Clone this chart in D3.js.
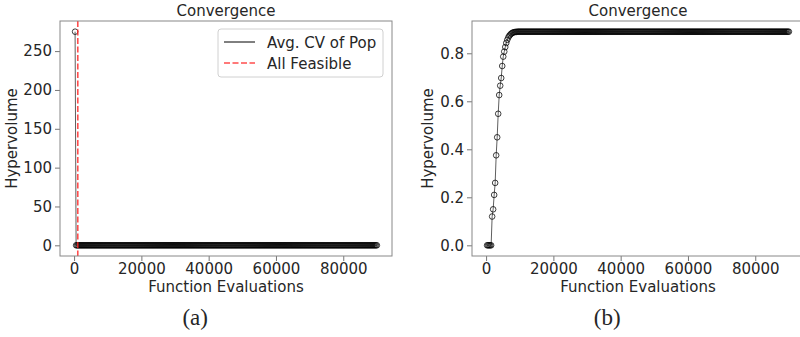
<!DOCTYPE html>
<html>
<head>
<meta charset="utf-8">
<script src="https://cdn.jsdelivr.net/npm/d3@7"></script>
<style>
  body { margin: 0; background: #fff; }
  text { font-family: "DejaVu Sans", sans-serif; fill: #262626; }
</style>
</head>
<body>
<div id="chart"></div>
<script>
const WIDTH = 800;
const HEIGHT = 337;
const TOP = 21;
const BOTTOM = 256;

// evaluation counts (one entry per generation)
const evals = [
  300, 600, 900, 1200, 1500, 1800, 2100, 2400, 2700, 3000,
  3300, 3600, 3900, 4200, 4500, 4800, 5100, 5400, 5700, 6000,
  6300, 6600, 6900, 7200, 7500, 7800, 8100, 8400, 8700, 9000,
  9300, 9600, 9900, 10200, 10500, 10800, 11100, 11400, 11700, 12000,
  12300, 12600, 12900, 13200, 13500, 13800, 14100, 14400, 14700, 15000,
  15300, 15600, 15900, 16200, 16500, 16800, 17100, 17400, 17700, 18000,
  18300, 18600, 18900, 19200, 19500, 19800, 20100, 20400, 20700, 21000,
  21300, 21600, 21900, 22200, 22500, 22800, 23100, 23400, 23700, 24000,
  24300, 24600, 24900, 25200, 25500, 25800, 26100, 26400, 26700, 27000,
  27300, 27600, 27900, 28200, 28500, 28800, 29100, 29400, 29700, 30000,
  30300, 30600, 30900, 31200, 31500, 31800, 32100, 32400, 32700, 33000,
  33300, 33600, 33900, 34200, 34500, 34800, 35100, 35400, 35700, 36000,
  36300, 36600, 36900, 37200, 37500, 37800, 38100, 38400, 38700, 39000,
  39300, 39600, 39900, 40200, 40500, 40800, 41100, 41400, 41700, 42000,
  42300, 42600, 42900, 43200, 43500, 43800, 44100, 44400, 44700, 45000,
  45300, 45600, 45900, 46200, 46500, 46800, 47100, 47400, 47700, 48000,
  48300, 48600, 48900, 49200, 49500, 49800, 50100, 50400, 50700, 51000,
  51300, 51600, 51900, 52200, 52500, 52800, 53100, 53400, 53700, 54000,
  54300, 54600, 54900, 55200, 55500, 55800, 56100, 56400, 56700, 57000,
  57300, 57600, 57900, 58200, 58500, 58800, 59100, 59400, 59700, 60000,
  60300, 60600, 60900, 61200, 61500, 61800, 62100, 62400, 62700, 63000,
  63300, 63600, 63900, 64200, 64500, 64800, 65100, 65400, 65700, 66000,
  66300, 66600, 66900, 67200, 67500, 67800, 68100, 68400, 68700, 69000,
  69300, 69600, 69900, 70200, 70500, 70800, 71100, 71400, 71700, 72000,
  72300, 72600, 72900, 73200, 73500, 73800, 74100, 74400, 74700, 75000,
  75300, 75600, 75900, 76200, 76500, 76800, 77100, 77400, 77700, 78000,
  78300, 78600, 78900, 79200, 79500, 79800, 80100, 80400, 80700, 81000,
  81300, 81600, 81900, 82200, 82500, 82800, 83100, 83400, 83700, 84000,
  84300, 84600, 84900, 85200, 85500, 85800, 86100, 86400, 86700, 87000,
  87300, 87600, 87900, 88200, 88500, 88800, 89100, 89400, 89700, 90000
];

// (a) average constraint violation of the population
const avgCV = [
  275, 0, 0, 0, 0, 0, 0, 0, 0, 0, 0, 0, 0, 0, 0, 0, 0, 0, 0, 0,
  0, 0, 0, 0, 0, 0, 0, 0, 0, 0, 0, 0, 0, 0, 0, 0, 0, 0, 0, 0,
  0, 0, 0, 0, 0, 0, 0, 0, 0, 0, 0, 0, 0, 0, 0, 0, 0, 0, 0, 0,
  0, 0, 0, 0, 0, 0, 0, 0, 0, 0, 0, 0, 0, 0, 0, 0, 0, 0, 0, 0,
  0, 0, 0, 0, 0, 0, 0, 0, 0, 0, 0, 0, 0, 0, 0, 0, 0, 0, 0, 0,
  0, 0, 0, 0, 0, 0, 0, 0, 0, 0, 0, 0, 0, 0, 0, 0, 0, 0, 0, 0,
  0, 0, 0, 0, 0, 0, 0, 0, 0, 0, 0, 0, 0, 0, 0, 0, 0, 0, 0, 0,
  0, 0, 0, 0, 0, 0, 0, 0, 0, 0, 0, 0, 0, 0, 0, 0, 0, 0, 0, 0,
  0, 0, 0, 0, 0, 0, 0, 0, 0, 0, 0, 0, 0, 0, 0, 0, 0, 0, 0, 0,
  0, 0, 0, 0, 0, 0, 0, 0, 0, 0, 0, 0, 0, 0, 0, 0, 0, 0, 0, 0,
  0, 0, 0, 0, 0, 0, 0, 0, 0, 0, 0, 0, 0, 0, 0, 0, 0, 0, 0, 0,
  0, 0, 0, 0, 0, 0, 0, 0, 0, 0, 0, 0, 0, 0, 0, 0, 0, 0, 0, 0,
  0, 0, 0, 0, 0, 0, 0, 0, 0, 0, 0, 0, 0, 0, 0, 0, 0, 0, 0, 0,
  0, 0, 0, 0, 0, 0, 0, 0, 0, 0, 0, 0, 0, 0, 0, 0, 0, 0, 0, 0,
  0, 0, 0, 0, 0, 0, 0, 0, 0, 0, 0, 0, 0, 0, 0, 0, 0, 0, 0, 0
];
const allFeasibleAt = 1100;

// (b) hypervolume
const hypervolume = [
  0, 0, 0, 0, 0, 0.12, 0.15, 0.21, 0.26, 0.375,
  0.45, 0.548, 0.626, 0.665, 0.697, 0.747, 0.786, 0.807, 0.826, 0.843,
  0.856, 0.866, 0.873, 0.878, 0.882, 0.885, 0.887, 0.888, 0.889, 0.889,
  0.89, 0.89, 0.89, 0.89, 0.89, 0.89, 0.89, 0.89, 0.89, 0.89,
  0.89, 0.89, 0.89, 0.89, 0.89, 0.89, 0.89, 0.89, 0.89, 0.89,
  0.89, 0.89, 0.89, 0.89, 0.89, 0.89, 0.89, 0.89, 0.89, 0.89,
  0.89, 0.89, 0.89, 0.89, 0.89, 0.89, 0.89, 0.89, 0.89, 0.89,
  0.89, 0.89, 0.89, 0.89, 0.89, 0.89, 0.89, 0.89, 0.89, 0.89,
  0.89, 0.89, 0.89, 0.89, 0.89, 0.89, 0.89, 0.89, 0.89, 0.89,
  0.89, 0.89, 0.89, 0.89, 0.89, 0.89, 0.89, 0.89, 0.89, 0.89,
  0.89, 0.89, 0.89, 0.89, 0.89, 0.89, 0.89, 0.89, 0.89, 0.89,
  0.89, 0.89, 0.89, 0.89, 0.89, 0.89, 0.89, 0.89, 0.89, 0.89,
  0.89, 0.89, 0.89, 0.89, 0.89, 0.89, 0.89, 0.89, 0.89, 0.89,
  0.89, 0.89, 0.89, 0.89, 0.89, 0.89, 0.89, 0.89, 0.89, 0.89,
  0.89, 0.89, 0.89, 0.89, 0.89, 0.89, 0.89, 0.89, 0.89, 0.89,
  0.89, 0.89, 0.89, 0.89, 0.89, 0.89, 0.89, 0.89, 0.89, 0.89,
  0.89, 0.89, 0.89, 0.89, 0.89, 0.89, 0.89, 0.89, 0.89, 0.89,
  0.89, 0.89, 0.89, 0.89, 0.89, 0.89, 0.89, 0.89, 0.89, 0.89,
  0.89, 0.89, 0.89, 0.89, 0.89, 0.89, 0.89, 0.89, 0.89, 0.89,
  0.89, 0.89, 0.89, 0.89, 0.89, 0.89, 0.89, 0.89, 0.89, 0.89,
  0.89, 0.89, 0.89, 0.89, 0.89, 0.89, 0.89, 0.89, 0.89, 0.89,
  0.89, 0.89, 0.89, 0.89, 0.89, 0.89, 0.89, 0.89, 0.89, 0.89,
  0.89, 0.89, 0.89, 0.89, 0.89, 0.89, 0.89, 0.89, 0.89, 0.89,
  0.89, 0.89, 0.89, 0.89, 0.89, 0.89, 0.89, 0.89, 0.89, 0.89,
  0.89, 0.89, 0.89, 0.89, 0.89, 0.89, 0.89, 0.89, 0.89, 0.89,
  0.89, 0.89, 0.89, 0.89, 0.89, 0.89, 0.89, 0.89, 0.89, 0.89,
  0.89, 0.89, 0.89, 0.89, 0.89, 0.89, 0.89, 0.89, 0.89, 0.89,
  0.89, 0.89, 0.89, 0.89, 0.89, 0.89, 0.89, 0.89, 0.89, 0.89,
  0.89, 0.89, 0.89, 0.89, 0.89, 0.89, 0.89, 0.89, 0.89, 0.89,
  0.89, 0.89, 0.89, 0.89, 0.89, 0.89, 0.89, 0.89, 0.89, 0.89
];

const xTicks = [0, 20000, 40000, 60000, 80000];
const cvTicks = [0, 50, 100, 150, 200, 250];
const hvTicks = [0.0, 0.2, 0.4, 0.6, 0.8];
const legendLabels = ['Avg. CV of Pop', 'All Feasible'];

let svg = d3.select('#chart').append('svg')
  .attr('width', WIDTH)
  .attr('height', HEIGHT);

svg.append('rect')
  .attr('width', WIDTH)
  .attr('height', HEIGHT)
  .attr('fill', '#fff');

// matplotlib-like 5% margins
function padded(lo, hi) {
  let m = (hi - lo) * 0.05;
  return [lo - m, hi + m];
}

function buildPanel(opts) {
  let { left, right, values, yTicks, yFormat, caption, labelX } = opts;
  let g = svg.append('g');

  let x = d3.scaleLinear()
    .domain(padded(d3.min(evals), d3.max(evals)))
    .range([left, right]);
  let y = d3.scaleLinear()
    .domain(padded(0, d3.max(values)))
    .range([BOTTOM, TOP]);

  let xAxis = g.append('g')
    .attr('transform', `translate(0,${BOTTOM})`)
    .call(d3.axisBottom(x).tickValues(xTicks).tickFormat(d3.format('d'))
      .tickSize(5).tickSizeOuter(0).tickPadding(2.5));
  let yAxis = g.append('g')
    .attr('transform', `translate(${left},0)`)
    .call(d3.axisLeft(y).tickValues(yTicks).tickFormat(yFormat)
      .tickSize(5).tickSizeOuter(0).tickPadding(3));

  [xAxis, yAxis].forEach((a) => {
    a.select('.domain').remove();
    a.selectAll('line').attr('stroke', '#777').attr('stroke-width', 1);
    a.selectAll('text')
      .attr('font-size', 15)
      .attr('font-family', '"DejaVu Sans", sans-serif')
      .attr('fill', '#262626');
  });

  // series
  let pts = evals.map((e, i) => ({ e: e, v: values[i] }));
  let clipId = 'clip' + left;
  g.append('clipPath').attr('id', clipId)
    .append('rect')
    .attr('x', left).attr('y', TOP)
    .attr('width', right - left).attr('height', BOTTOM - TOP);

  let plot = g.append('g').attr('clip-path', `url(#${clipId})`);

  plot.append('path')
    .datum(pts)
    .attr('fill', 'none')
    .attr('stroke', '#000')
    .attr('stroke-opacity', 0.7)
    .attr('stroke-width', 0.9)
    .attr('d', d3.line().x((d) => x(d.e)).y((d) => y(d.v)));

  plot.selectAll('circle')
    .data(pts)
    .enter()
    .append('circle')
    .attr('cx', (d) => x(d.e))
    .attr('cy', (d) => y(d.v))
    .attr('r', 2.8)
    .attr('fill', 'none')
    .attr('stroke', '#000')
    .attr('stroke-opacity', 0.75)
    .attr('stroke-width', 1);

  // frame
  g.append('rect')
    .attr('x', left).attr('y', TOP)
    .attr('width', right - left).attr('height', BOTTOM - TOP)
    .attr('fill', 'none')
    .attr('stroke', '#888')
    .attr('stroke-width', 1);

  g.append('text')
    .attr('x', (left + right) / 2)
    .attr('y', 15.5)
    .attr('text-anchor', 'middle')
    .attr('font-size', 15)
    .text('Convergence');

  g.append('text')
    .attr('x', (left + right) / 2)
    .attr('y', 292)
    .attr('text-anchor', 'middle')
    .attr('font-size', 15)
    .text('Function Evaluations');

  g.append('text')
    .attr('transform', `translate(${labelX},${(TOP + BOTTOM) / 2}) rotate(-90)`)
    .attr('text-anchor', 'middle')
    .attr('font-size', 15)
    .text('Hypervolume');

  g.append('text')
    .attr('x', x(caption.at))
    .attr('y', 325)
    .attr('text-anchor', 'middle')
    .attr('font-size', 23)
    .style('font-family', '"Liberation Serif", "Times New Roman", serif')
    .attr('fill', '#000')
    .text(caption.text);

  return { g, x, y, plot };
}

let panelA = buildPanel({
  left: 60, right: 392,
  values: avgCV,
  yTicks: cvTicks,
  yFormat: d3.format('d'),
  caption: { text: '(a)', at: 36000 },
  labelX: 17
});

// all feasible marker
panelA.plot.append('line')
  .attr('x1', panelA.x(allFeasibleAt))
  .attr('x2', panelA.x(allFeasibleAt))
  .attr('y1', TOP)
  .attr('y2', BOTTOM)
  .attr('stroke', '#ff2020')
  .attr('stroke-opacity', 0.8)
  .attr('stroke-width', 1.6)
  .attr('stroke-dasharray', '6,2.5');

// legend
let lg = panelA.g.append('g').attr('transform', 'translate(218,29)');
lg.append('rect')
  .attr('width', 165).attr('height', 48)
  .attr('rx', 3)
  .attr('fill', '#fff').attr('fill-opacity', 0.85)
  .attr('stroke', '#d0d0d0');
lg.selectAll('line')
  .data(legendLabels)
  .enter()
  .append('line')
  .attr('x1', 6).attr('x2', 37)
  .attr('y1', (d, i) => 13 + i * 21)
  .attr('y2', (d, i) => 13 + i * 21)
  .attr('stroke', (d, i) => i === 0 ? '#000' : '#ff2020')
  .attr('stroke-opacity', (d, i) => i === 0 ? 1 : 0.8)
  .attr('stroke-width', (d, i) => i === 0 ? 1 : 1.6)
  .attr('stroke-dasharray', (d, i) => i === 0 ? null : '6,2.5');
lg.selectAll('text')
  .data(legendLabels)
  .enter()
  .append('text')
  .attr('x', 49)
  .attr('y', (d, i) => 18.5 + i * 21)
  .attr('font-size', 15)
  .text((d) => d);

let panelB = buildPanel({
  left: 472, right: 804,
  values: hypervolume,
  yTicks: hvTicks,
  yFormat: d3.format('.1f'),
  caption: { text: '(b)', at: 36000 },
  labelX: 433
});
</script>
</body>
</html>
